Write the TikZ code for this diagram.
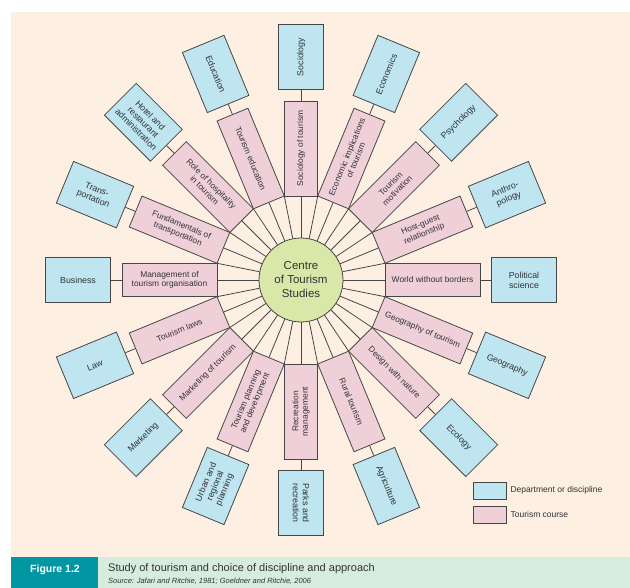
\documentclass[tikz,border=0pt]{standalone}
\usepackage{fontspec}
\setmainfont{Liberation Sans}
\usetikzlibrary{positioning,calc}

\definecolor{paper}{RGB}{253,240,226}
\definecolor{deptblue}{RGB}{190,229,240}
\definecolor{coursepink}{RGB}{240,208,216}
\definecolor{hubgreen}{RGB}{217,232,168}
\definecolor{capteal}{RGB}{0,150,162}
\definecolor{capgreen}{RGB}{214,237,222}
\definecolor{edge}{RGB}{70,70,70}
\definecolor{txt}{RGB}{50,50,55}

\begin{document}
\begin{tikzpicture}[
x=1pt, y=1pt,
spoke/.style={draw=edge, line width=0.8pt},
course/.style={draw=edge, line width=0.8pt, fill=coursepink, align=center, minimum width=95pt, minimum height=33.4pt, inner sep=1pt, text=txt, font=\fontsize{8.4}{9.6}\selectfont},
dept/.style={draw=edge, line width=0.8pt, fill=deptblue, align=center, minimum width=65pt, minimum height=45pt, inner sep=1pt, text=txt, font=\fontsize{8.8}{10}\selectfont},
hub/.style={circle, draw=edge, line width=0.8pt, fill=hubgreen, minimum size=84pt, align=center, text=txt, font=\fontsize{11.5}{14}\selectfont},
legtext/.style={inner sep=1pt, text=txt, font=\fontsize{8.5}{10}\selectfont}
]
\useasboundingbox (0,0) rectangle (630,588);
% panel and caption bar
\fill[paper] (11,31) rectangle (630,576);
\fill[capgreen] (98,0) rectangle (630,31);
\fill[capteal] (11,0) rectangle (98,31);

\node[hub] (c) at (301,308) {Centre\\of Tourism\\Studies};

% angle / course / department / course rotation / department rotation
\foreach \a/\pt/\bt/\pr/\br [count=\i] in {
  0/{World without borders}/{Political\\science}/0/0,
  22.5/{Host-guest\\relationship}/{Anthro-\\pology}/22.5/22.5,
  45/{Tourism\\motivation}/{Psychology}/45/45,
  67.5/{Economic implications\\of tourism}/{Economics}/67.5/67.5,
  90/{Sociology of tourism}/{Sociology}/90/90,
  112.5/{Tourism education}/{Education}/-67.5/-67.5,
  135/{Role of hospitality\\in tourism}/{Hotel and\\restaurant\\administration}/-45/-45,
  157.5/{Fundamentals of\\transportation}/{Trans-\\portation}/-22.5/-22.5,
  180/{Management of\\tourism organisation}/{Business}/0/0,
  202.5/{Tourism laws}/{Law}/22.5/22.5,
  225/{Marketing of tourism}/{Marketing}/45/45,
  247.5/{Tourism planning\\and development}/{Urban and\\regional\\planning}/67.5/67.5,
  270/{Recreation\\management}/{Parks and\\recreation}/90/-90,
  292.5/{Rural tourism}/{Agriculture}/-67.5/-67.5,
  315/{Design with nature}/{Ecology}/-45/-45,
  337.5/{Geography of tourism}/{Geography}/-22.5/-22.5}{
  \node[course, rotate=\pr] (p\i) at ($(c)+(\a:131.5)$) {\pt};
  \node[dept, rotate=\br] (b\i) at ($(c)+(\a:223)$) {\bt};
  \coordinate (k\i) at ($(c)+(\a+11.25:85.6)$);
  \draw[spoke] (c) -- (p\i);
  \draw[spoke] (c) -- (k\i);
  \draw[spoke] (p\i) -- (b\i);
}

% legend
\node[dept, minimum width=33pt, minimum height=17pt] (legb) at (489.5,97.5) {};
\node[course, minimum width=33pt, minimum height=17pt] (legp) at (489.5,73.5) {};
\node[legtext, right=3pt of legb] (legbt) {Department or discipline};
\node[legtext, right=3pt of legp] (legpt) {Tourism course};

% caption
\node[anchor=base, inner sep=0pt, text=white, font=\bfseries\fontsize{10.5}{12}\selectfont] (fig) at (55,15) {Figure 1.2};
\node[anchor=base west, inner sep=0pt, text=txt, font=\fontsize{11}{13}\selectfont] (cap) at (108,16) {Study of tourism and choice of discipline and approach};
\node[anchor=base west, inner sep=0pt, text=txt, font=\itshape\fontsize{7.5}{9}\selectfont] (src) at (108,4) {Source: Jafari and Ritchie, 1981; Goeldner and Ritchie, 2006};
\end{tikzpicture}
\end{document}
